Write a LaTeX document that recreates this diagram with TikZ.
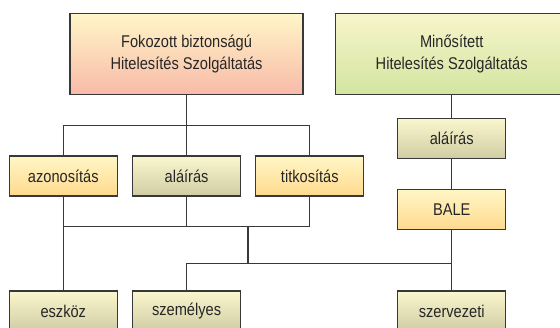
\documentclass[tikz,border=0pt]{standalone}
\usepackage{fontspec}
\setmainfont{Liberation Sans}[FakeStretch=0.86]
\definecolor{edge}{HTML}{383838}
\definecolor{txt}{HTML}{262626}
\definecolor{pinkTop}{HTML}{FFF6C8}
\definecolor{pinkBot}{HTML}{F8BAA8}
\definecolor{greenTop}{HTML}{F7F5CA}
\definecolor{greenBot}{HTML}{D3E5A1}
\definecolor{yelTop}{HTML}{FFF6C6}
\definecolor{yelBot}{HTML}{FFDA8E}
\definecolor{oliTop}{HTML}{FAF6CE}
\definecolor{oliBot}{HTML}{D0CCA3}
\tikzset{
  boxbase/.style={draw=edge, line width=1.3pt, inner sep=0pt, text=txt,
    align=center, font=\fontsize{17}{21.5}\selectfont},
  bigbox/.style={boxbase, minimum width=233pt, minimum height=81pt},
  smallbox/.style={boxbase, minimum width=108pt, minimum height=40pt},
  pinkbox/.style={bigbox, top color=pinkTop, bottom color=pinkBot},
  greenbox/.style={bigbox, top color=greenTop, bottom color=greenBot},
  yelbox/.style={smallbox, top color=yelTop, bottom color=yelBot},
  olibox/.style={smallbox, top color=oliTop, bottom color=oliBot},
  conn/.style={draw=edge, line width=1.1pt}
}
\begin{document}
\begin{tikzpicture}[x=1pt,y=-1pt]
\clip (0,0) rectangle (560,327);
\fill[white] (0,0) rectangle (560,327);
\node[pinkbox] (top1) at (186.6,54) {Fokozott biztonságú\\Hitelesítés Szolgáltatás};
\node[greenbox] (top2) at (451.7,54) {Minősített\\Hitelesítés Szolgáltatás};
\node[yelbox] (az) at (63.3,176) {azonosítás};
\node[olibox] (al1) at (186.6,176) {aláírás};
\node[yelbox] (ti) at (309.8,176) {titkosítás};
\node[olibox] (al2) at (451.7,138.3) {aláírás};
\node[yelbox] (bale) at (451.7,209.5) {BALE};
\node[olibox] (esz) at (63.3,311) {eszköz};
\node[olibox] (sz) at (186.6,311) {személyes};
\node[olibox] (szerv) at (451.7,311) {szervezeti};
\coordinate (b1) at (186.6,125.7);
\coordinate (b2) at (248,226.8);
\coordinate (b3) at (248,263.6);
\draw[conn] (top1.south) -- (b1);
\draw[conn] (b1) -- (al1.north);
\draw[conn] (az.north) |- (b1) -| (ti.north);
\draw[conn] (az.south) |- (b2) -| (ti.south);
\draw[conn] (al1.south) -- (al1.south |- b2);
\draw[conn] (az.south) -- (esz.north);
\draw[conn] (b2) -- (b3);
\draw[conn] (sz.north) |- (b3) -- (bale.south |- b3);
\draw[conn] (bale.south) -- (szerv.north);
\draw[conn] (top2.south) -- (al2.north);
\draw[conn] (al2.south) -- (bale.north);
\end{tikzpicture}
\end{document}
